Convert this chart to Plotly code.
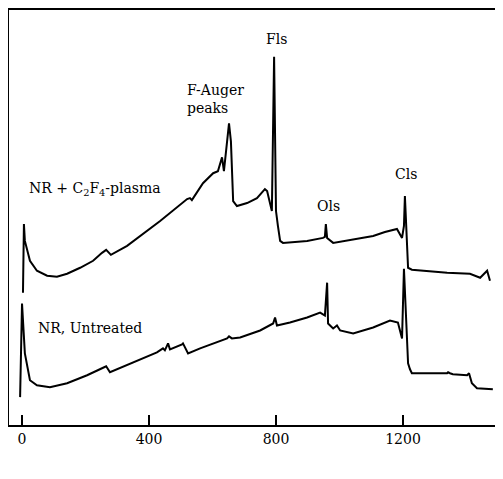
import plotly.graph_objects as go

# NR + C2F4-plasma treated (upper spectrum): kinetic energy [eV], intensity (arb.)
plasma_energy = [3, 6, 9, 25, 47, 79, 110, 142, 183, 224, 252, 265, 280, 331, 435, 513, 520, 529, 535,
                 570, 602, 617, 630, 636, 646, 652, 658, 665, 677, 709, 740, 765, 772, 781,
                 787, 794, 800, 806, 813, 822, 898, 948, 954, 957, 961, 980, 1055, 1106, 1143,
                 1181, 1197, 1203, 1206, 1216, 1228, 1339, 1411, 1443, 1465, 1474]
plasma_counts = [133, 202, 185, 165, 155, 150, 149, 152, 158, 165, 173, 176, 171, 180, 205, 226, 227, 228, 226,
                 243, 253, 255, 269, 255, 282, 303, 285, 225, 220, 223, 228, 237, 235, 222,
                 215, 370, 215, 200, 185, 183, 185, 188, 189, 202, 188, 183, 187, 190, 194,
                 197, 188, 200, 230, 158, 156, 153, 152, 148, 155, 145]

# NR untreated (lower spectrum)
untreated_energy = [-6, 0, 9, 25, 47, 88, 142, 205, 252, 265, 277, 350, 425, 444, 450, 460, 466, 504,
                    507, 523, 561, 646, 652, 661, 687, 750, 791, 797, 803, 844, 898, 939, 954, 961,
                    964, 980, 992, 1002, 1043, 1106, 1159, 1184, 1197, 1203, 1216, 1222, 1228, 1339,
                    1342, 1348, 1357, 1402, 1408, 1417, 1433, 1483]
untreated_counts = [28, 122, 72, 45, 40, 38, 42, 50, 57, 59, 53, 63, 73, 77, 75, 82, 76, 81,
                    82, 72, 77, 87, 89, 87, 88, 95, 102, 108, 100, 103, 108, 113, 110, 143,
                    102, 97, 100, 95, 92, 98, 105, 103, 87, 157, 62, 56, 52, 52,
                    53, 52, 51, 50, 52, 42, 37, 36]

tick_values = [0, 400, 800, 1200]
tick_labels = ["0", "400", "800", "1200"]

FONT = "DejaVu Serif"

fig = go.Figure()
fig.add_trace(go.Scatter(x=plasma_energy, y=plasma_counts, mode="lines",
                         line=dict(color="black", width=2), showlegend=False))
fig.add_trace(go.Scatter(x=untreated_energy, y=untreated_counts, mode="lines",
                         line=dict(color="black", width=2), showlegend=False))

annotations = [
    dict(x=513, y=328, text="F-Auger<br>peaks", xanchor="left", align="left"),
    dict(x=803, y=388, text="Fls", xanchor="center"),
    dict(x=16, y=237, text="NR + C<sub>2</sub>F<sub>4</sub>-plasma", xanchor="left"),
    dict(x=964, y=220, text="Ols", xanchor="center"),
    dict(x=1209, y=252, text="Cls", xanchor="center"),
    dict(x=44, y=97, text="NR, Untreated", xanchor="left"),
    dict(x=756, y=-41, text="Kinetic Energy[eV]", xanchor="center"),
]
for a in annotations:
    fig.add_annotation(xref="x", yref="y", showarrow=False, yanchor="middle",
                       font=dict(family=FONT, size=14, color="black"), **a)

fig.update_layout(
    width=503, height=479,
    margin=dict(l=1, r=8, t=0, b=62),
    paper_bgcolor="white", plot_bgcolor="white",
    xaxis=dict(range=[-41, 1515], tickvals=tick_values, ticktext=tick_labels,
               ticks="inside", ticklen=10, tickwidth=1.5, tickcolor="black",
               showline=True, linecolor="black", linewidth=1.5, mirror=True,
               showgrid=False, zeroline=False,
               tickfont=dict(family=FONT, size=14, color="black")),
    yaxis=dict(range=[0, 417], showticklabels=False, ticks="",
               showline=True, linecolor="black", linewidth=1.5,
               showgrid=False, zeroline=False),
)

fig.write_html("out.html")
